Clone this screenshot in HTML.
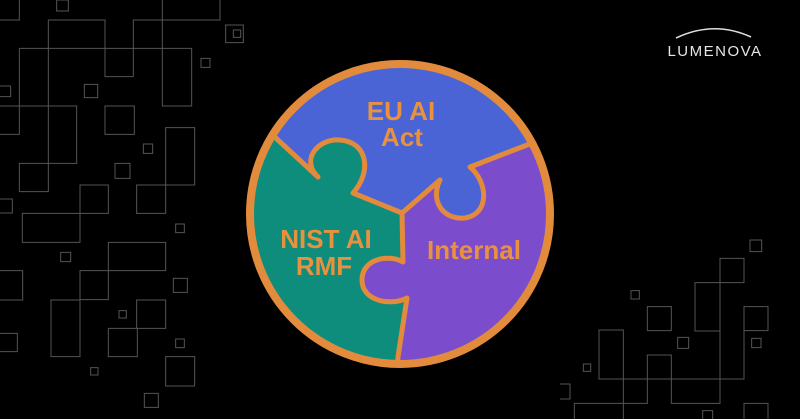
<!DOCTYPE html>
<html><head><meta charset="utf-8"><style>
html,body{margin:0;padding:0;background:#000;}
svg{display:block}
</style></head><body>
<svg width="800" height="419" viewBox="0 0 800 419" xmlns="http://www.w3.org/2000/svg">
<rect width="800" height="419" fill="#000"/>
<g transform="scale(0.33333)" fill="none" stroke="#555" stroke-width="3">
<path d="M0,60H58V0 M170,0h35v33h-35z M487,0V318H575V145H58V403H0 M487,60H660V0 M400,230V60H487 M145,60H315V230H400 M145,60V575H58V490H230V318H0
M677,75h53v53h-53z M603,175h27v27h-27z M0,258h32v32H0 M253,253h40v40h-40z M315,318h88v85h-88z M430,432h28v28h-28z M345,490h45v45h-45z
M497,383h87v172h-87z M410,555h87v85h-87z M0,597h37v42H0 M67,640H325V555H240V727H67z M527,672h26v26h-26z M182,757h30v28h-30z
M325,727h172v85h-172z M240,812h85v87h-85z M153,900h87v170h-87z M0,812h68v88H0 M520,835h42v42h-42z M357,932h22v22h-22z
M410,900h87v85h-87z M325,985h87v85h-87z M0,1000h52v55H0 M527,1017h26v26h-26z M272,1103h22v22h-22z M497,1070h87v88h-87z M433,1180h42v42h-42z
M700,90h22v22h-22z"/>
</g>
<g transform="translate(560,240) scale(0.33333)" fill="none" stroke="#555" stroke-width="3">
<path d="M570,0h35v35h-35z M480,55h72v73h-72z M405,128h75v145h-75z M552,200h72v72h-72z M480,128V490H334V345H262V490H190 M213,152h25v25h-25z M262,200h72v72h-72z
M353,292h33v33h-33z M575,295h28v28h-28z M117,270h73v147h-73z M190,417H552V272 M190,270V537 M70,372h22v22h-22z M0,432h30v45H0 M43,537V490H190
M428,512h30v30h-30z M552,537V490h72V537"/>
</g>
<defs><clipPath id="c"><circle cx="400" cy="214" r="150"/></clipPath></defs>
<circle cx="400" cy="214" r="150" fill="#0e8c7c"/>
<g clip-path="url(#c)">
<path d="M265,128 L318,177 C300,160 318,138 340,140 C368,142 372,172 353,193 L402,213 L440,180 C430,200 442,220 465,218 C490,214 488,182 470,167 L540,140 L600,60 L200,0 L200,60 Z" fill="#4a64d6"/>
<path d="M402,213 L440,180 C430,200 442,220 465,218 C490,214 488,182 470,167 L540,140 L600,150 L600,420 L395,420 L398,357 L407,298 C392,306 362,302 362,280 C362,258 390,254 403,262 Z" fill="#7b4ccc"/>
<path d="M265,128 L318,177 C300,160 318,138 340,140 C368,142 372,172 353,193 L402,213 L440,180 C430,200 442,220 465,218 C490,214 488,182 470,167 L540,140 M402,213 L403,262 C390,254 362,258 362,280 C362,302 392,306 407,298 L398,357 L395,420" fill="none" stroke="#e38b3d" stroke-width="5" stroke-linejoin="round"/>
</g>
<circle cx="400" cy="214" r="150" fill="none" stroke="#e38b3d" stroke-width="8"/>
<g font-family="Liberation Sans, sans-serif" font-weight="bold" font-size="26" fill="#e8913f" text-anchor="middle">
<text x="401" y="120">EU AI</text>
<text x="402" y="146">Act</text>
<text x="326" y="248">NIST AI</text>
<text x="324" y="275">RMF</text>
<text x="474" y="259">Internal</text>
</g>
<path d="M676,38 Q714,20 751,37" fill="none" stroke="#ddd" stroke-width="1.6"/>
<text x="715" y="56" text-anchor="middle" font-family="Liberation Sans, sans-serif" font-size="15" letter-spacing="1.5" fill="#e6e6e6">LUMENOVA</text>
</svg>
</body></html>
